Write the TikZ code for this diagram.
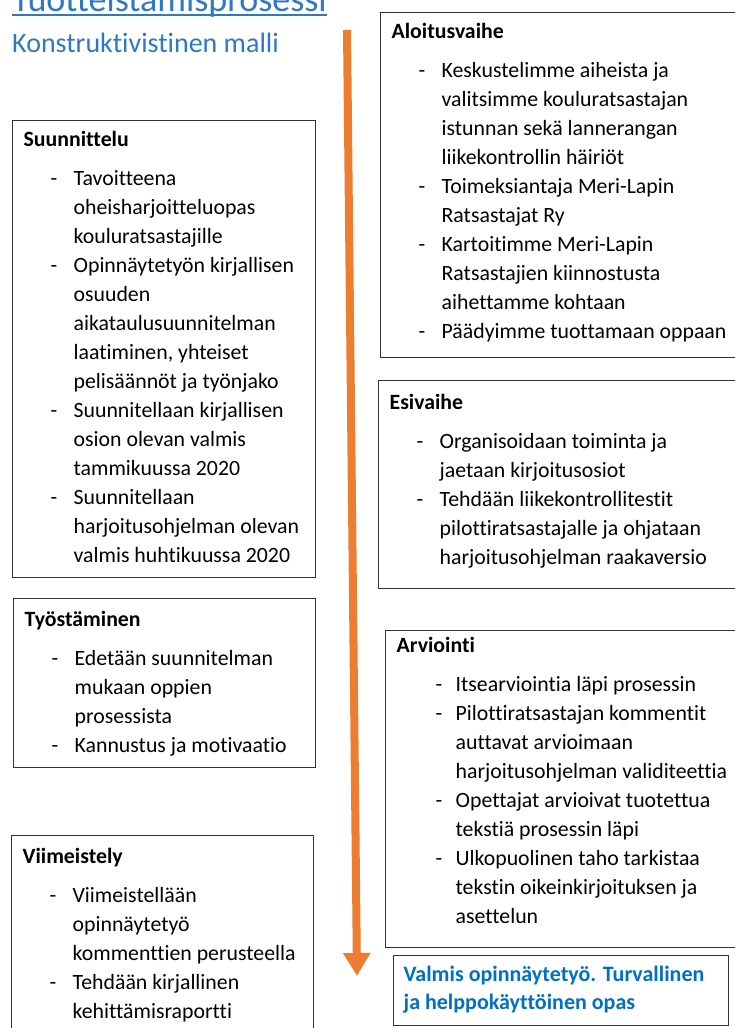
\documentclass[tikz,border=0pt]{standalone}
\usepackage{fontspec}
\setmainfont[Ligatures=NoCommon]{Carlito}
\usepackage{xcolor}
\usepackage{tikz}
\usetikzlibrary{arrows.meta, positioning}
\definecolor{titleblue}{HTML}{2E78C4}
\definecolor{doneblue}{HTML}{0070C0}
\definecolor{floworange}{HTML}{ED7D31}
\newlength{\dashind}\setlength{\dashind}{38pt}
\newlength{\textind}\setlength{\textind}{61pt}
\newcommand{\head}[2][26pt]{\noindent\hspace*{11pt}\rule{0pt}{#1}\textbf{#2}\par\vspace{10pt}}
\newcommand{\itm}[1]{\par\noindent\hspace*{\dashind}\makebox[\dimexpr\textind-\dashind\relax][l]{-}\mbox{#1}}
\newcommand{\cnt}[1]{\par\noindent\hspace*{\textind}\mbox{#1}}
\newcommand{\stagebox}[3]{\begin{minipage}[t][#2][t]{#1}\fontsize{21.8}{29}\selectfont #3\end{minipage}}
\tikzstyle{stage} = [rectangle, draw=black!80, line width=1.3pt, inner sep=0pt, anchor=north west]
\tikzstyle{result} = [rectangle, draw=black!80, line width=1.3pt, inner sep=0pt, anchor=north west, text=doneblue]
\tikzstyle{flow} = [line width=8pt, draw=floworange, -{Triangle[width=26pt,length=23pt]}]

\begin{document}
\begin{tikzpicture}[x=1pt, y=-1pt]
\useasboundingbox (0,0) rectangle (735,1028);

\node (title) [anchor=base west, inner sep=0pt, text=titleblue, font=\fontsize{36}{40}\selectfont] at (12,11) {Tuotteistamisprosessi};
\draw [titleblue, line width=1.8pt] ([yshift=-4pt]title.base west) -- ([yshift=-4pt]title.base east);
\node (subtitle) [anchor=base west, inner sep=0pt, text=titleblue, font=\fontsize{28}{32}\selectfont] at (12,52) {Konstruktivistinen malli};

\coordinate (flowstart) at (347,30);
\coordinate (flowend) at (357,976);
\draw [flow] (flowstart) -- (flowend);

\node (aloitus) [stage] at (380,12) {\stagebox{400pt}{345pt}{%
\head{Aloitusvaihe}
\itm{Keskustelimme aiheista ja}
\cnt{valitsimme kouluratsastajan}
\cnt{istunnan sekä lannerangan}
\cnt{liikekontrollin häiriöt}
\itm{Toimeksiantaja Meri-Lapin}
\cnt{Ratsastajat Ry}
\itm{Kartoitimme Meri-Lapin}
\cnt{Ratsastajien kiinnostusta}
\cnt{aihettamme kohtaan}
\itm{Päädyimme tuottamaan oppaan}}};

\node (suunnittelu) [stage] at (12,120) {\stagebox{303pt}{457pt}{%
\head{Suunnittelu}
\itm{Tavoitteena}
\cnt{oheisharjoitteluopas}
\cnt{kouluratsastajille}
\itm{Opinnäytetyön kirjallisen}
\cnt{osuuden}
\cnt{aikataulusuunnitelman}
\cnt{laatiminen, yhteiset}
\cnt{pelisäännöt ja työnjako}
\itm{Suunnitellaan kirjallisen}
\cnt{osion olevan valmis}
\cnt{tammikuussa 2020}
\itm{Suunnitellaan}
\cnt{harjoitusohjelman olevan}
\cnt{valmis huhtikuussa 2020}}};

\node (esivaihe) [stage] at (378,380) {\stagebox{400pt}{208pt}{%
\head[29pt]{Esivaihe}
\itm{Organisoidaan toiminta ja}
\cnt{jaetaan kirjoitusosiot}
\itm{Tehdään liikekontrollitestit}
\cnt{pilottiratsastajalle ja ohjataan}
\cnt{harjoitusohjelman raakaversio}}};

\node (tyostaminen) [stage] at (13,598) {\stagebox{302pt}{169pt}{%
\head[28pt]{Työstäminen}
\itm{Edetään suunnitelman}
\cnt{mukaan oppien}
\cnt{prosessista}
\itm{Kannustus ja motivaatio}}};

\node (arviointi) [stage] at (385,630) {\stagebox{400pt}{317pt}{%
\setlength{\dashind}{50pt}\setlength{\textind}{70pt}%
\head[22pt]{Arviointi}
\itm{Itsearviointia läpi prosessin}
\itm{Pilottiratsastajan kommentit}
\cnt{auttavat arvioimaan}
\cnt{harjoitusohjelman validiteettia}
\itm{Opettajat arvioivat tuotettua}
\cnt{tekstiä prosessin läpi}
\itm{Ulkopuolinen taho tarkistaa}
\cnt{tekstin oikeinkirjoituksen ja}
\cnt{asettelun}}};

\node (viimeistely) [stage] at (11,835) {\stagebox{302pt}{250pt}{%
\head[28pt]{Viimeistely}
\itm{Viimeistellään}
\cnt{opinnäytetyö}
\cnt{kommenttien perusteella}
\itm{Tehdään kirjallinen}
\cnt{kehittämisraportti}}};

\node (valmis) [result] at (393,955) {\begin{minipage}[t][70pt][t]{335pt}\fontsize{22}{28}\selectfont\bfseries
\noindent\hspace*{10pt}\rule{0pt}{26pt}Valmis opinnäytetyö. Turvallinen\par
\noindent\hspace*{10pt}ja helppokäyttöinen opas\end{minipage}};
\end{tikzpicture}
\end{document}
